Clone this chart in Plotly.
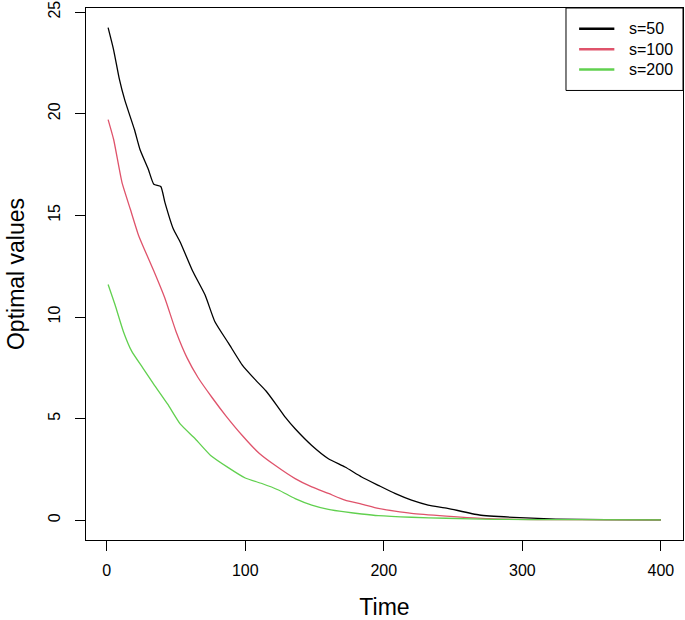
import plotly.graph_objects as go

# ---- data ----
series_names = ["s=50", "s=100", "s=200"]
series_colors = ["#000000", "#DF536B", "#61D04F"]

t_s50 = [1, 5, 9, 13, 20, 24, 30, 34, 39, 42, 48, 53, 62, 71, 78, 88, 98, 107, 115, 123, 129, 136,
         148, 160, 172, 184, 196, 208, 220, 232, 246, 269, 298, 324, 360, 400]
v_s50 = [24.23, 23.13, 21.74, 20.68, 19.22, 18.24, 17.27, 16.53, 16.42, 15.64, 14.34, 13.69, 12.26,
         11.08, 9.78, 8.7, 7.62, 6.93, 6.36, 5.63, 5.06, 4.5, 3.68, 3.03, 2.62, 2.13, 1.72, 1.32,
         0.99, 0.75, 0.59, 0.26, 0.13, 0.06, 0.03, 0.02]

t_s100 = [1, 5, 11, 17, 23, 27, 34, 42, 50, 58, 66, 76, 86, 98, 110, 122, 136, 148, 160, 172, 184,
          196, 208, 220, 245, 276, 320, 400]
v_s100 = [19.71, 18.73, 16.62, 15.31, 14.01, 13.36, 12.26, 10.92, 9.29, 7.99, 7.01, 6.04, 5.14,
          4.16, 3.3, 2.68, 2.05, 1.64, 1.32, 0.99, 0.80, 0.59, 0.45, 0.34, 0.21, 0.08, 0.03, 0.02]

t_s200 = [1, 6, 12, 18, 26, 34, 44, 53, 64, 75, 88, 100, 112, 124, 136, 148, 160, 172, 184, 196,
          220, 245, 280, 330, 400]
v_s200 = [11.6, 10.6, 9.29, 8.32, 7.5, 6.69, 5.71, 4.74, 4.0, 3.19, 2.58, 2.08, 1.81, 1.49, 1.07,
          0.75, 0.54, 0.41, 0.31, 0.23, 0.15, 0.10, 0.05, 0.03, 0.02]

x_ticks = [0, 100, 200, 300, 400]
y_ticks = [0, 5, 10, 15, 20, 25]

times = [t_s50, t_s100, t_s200]
values = [v_s50, v_s100, v_s200]

FONT = "Liberation Sans, Arial, Helvetica, sans-serif"

fig = go.Figure()
for name, col, tt, vv in zip(series_names, series_colors, times, values):
    fig.add_trace(go.Scatter(x=tt, y=vv, mode="lines", name=name,
                             line=dict(color=col, width=1.3, shape="spline", smoothing=0.5),
                             showlegend=False))

# R-style 4% axis extension
xmin, xmax = min(min(t) for t in times), max(max(t) for t in times)
ymin, ymax = 0.0, max(max(v) for v in values)
dx, dy = (xmax - xmin) * 0.04, (ymax - ymin) * 0.04

fig.update_layout(
    width=685, height=620,
    margin=dict(l=86, r=1, t=4, b=80),
    paper_bgcolor="white", plot_bgcolor="white",
    font=dict(family=FONT, color="black"),
    showlegend=False,
)
axis_common = dict(showline=True, linecolor="black", linewidth=1, mirror=True,
                   ticks="outside", ticklen=10, tickcolor="black", tickwidth=1,
                   showgrid=False, zeroline=False, ticklabeloverflow="allow",
                   tickfont=dict(size=16, family=FONT))
fig.update_xaxes(range=[xmin - dx, xmax + dx], tickvals=x_ticks, ticklabelstandoff=6,
                 title=dict(text="Time", font=dict(size=23), standoff=21), **axis_common)
fig.update_yaxes(range=[ymin - dy, ymax + dy], tickvals=y_ticks, tickangle=-90,
                 ticklabelstandoff=9,
                 title=dict(text="Optimal values", font=dict(size=23), standoff=14), **axis_common)

# manual R-style legend
lx0, lx1, ly0, ly1 = 0.804, 1.0, 0.845, 1.0
fig.add_shape(type="rect", xref="paper", yref="paper", x0=lx0, x1=lx1, y0=ly0, y1=ly1,
              line=dict(color="black", width=1), fillcolor="white", layer="above")
row_y = [0.961, 0.9226, 0.8843]
for name, col, ry in zip(series_names, series_colors, row_y):
    fig.add_shape(type="line", xref="paper", yref="paper", x0=0.826, x1=0.885, y0=ry, y1=ry,
                  line=dict(color=col, width=2.6), layer="above")
    fig.add_annotation(xref="paper", yref="paper", x=0.906, y=ry, text=name, showarrow=False,
                       xanchor="left", yanchor="middle", font=dict(size=16, family=FONT))

fig.write_html("out.html", config={"displayModeBar": False})

# remove the browser's default body margin so the figure sits at the page origin
with open("out.html", "r", encoding="utf-8") as f:
    html = f.read()
html = html.replace("<head>", "<head><style>html,body{margin:0;padding:0;overflow:hidden;}</style>", 1)
with open("out.html", "w", encoding="utf-8") as f:
    f.write(html)
